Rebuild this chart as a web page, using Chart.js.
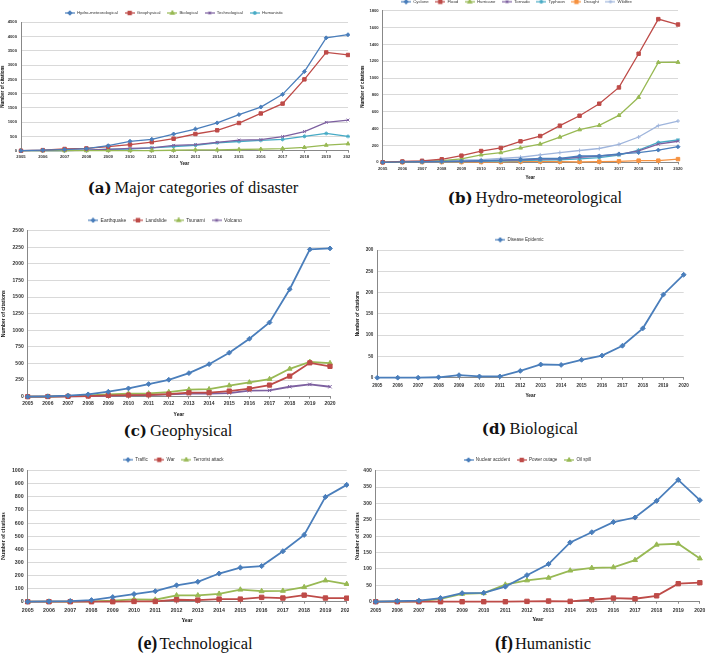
<!DOCTYPE html>
<html>
<head>
<meta charset="utf-8">
<script src="https://cdn.jsdelivr.net/npm/chart.js@4.4.1/dist/chart.umd.min.js"></script>
<style>
  body { margin: 0; background: #fff; width: 709px; height: 653px; position: relative; overflow: hidden; }
  .panel { position: absolute; overflow: hidden; }
  .panel canvas { position: absolute; left: 0; top: 0; }
  .cap { position: absolute; transform: translate(-50%, -50%); white-space: nowrap;
         font-family: "Liberation Serif", serif; font-size: 16.5px; color: #111; }
  .cap b { font-family: "DejaVu Serif", serif; font-size: 15px; margin-right: 3px; }
  .cap.times b { font-family: "Liberation Serif", serif; font-size: 18px; margin-right: 2px; }
</style>
</head>
<body>
<div class="cap" style="left:193px;top:188px"><b>(a)</b>Major categories of disaster</div>
<div class="cap" style="left:535px;top:198px"><b>(b)</b>Hydro-meteorological</div>
<div class="cap" style="left:178px;top:431px"><b>(c)</b>Geophysical</div>
<div class="cap" style="left:530px;top:429px"><b>(d)</b>Biological</div>
<div class="cap times" style="left:195px;top:643px"><b>(e)</b>Technological</div>
<div class="cap times" style="left:543px;top:643px"><b>(f)</b>Humanistic</div>

<script>
const years = ['2005', '2006', '2007', '2008', '2009', '2010', '2011', '2012',
               '2013', '2014', '2015', '2016', '2017', '2018', '2019', '2020'];

// (a) major categories
const hydroMet      = [0, 20, 40, 70, 175, 330, 400, 585, 760, 975, 1265, 1530, 1975, 2775, 3955, 4065];
const geophysical   = [0, 20, 60, 80, 140, 215, 300, 420, 585, 715, 970, 1305, 1650, 2500, 3445, 3355];
const biological    = [0, 0, 0, 2, 6, 3, 3, 16, 31, 30, 42, 52, 75, 116, 195, 242];
const technological = [0, 2, 5, 15, 43, 80, 97, 188, 212, 295, 372, 386, 497, 672, 995, 1075];
const humanistic    = [0, 2, 5, 20, 51, 55, 99, 148, 191, 278, 322, 360, 395, 503, 605, 502];

// (b) hydro-meteorological
const cyclone   = [0, 5, 8, 10, 15, 20, 25, 35, 45, 45, 75, 75, 100, 115, 145, 185];
const flood     = [0, 10, 18, 36, 79, 134, 170, 249, 312, 435, 553, 696, 889, 1289, 1700, 1636];
const hurricane = [0, 5, 10, 20, 40, 88, 115, 170, 217, 300, 387, 439, 557, 772, 1186, 1188];
const tornado   = [0, 3, 5, 8, 12, 18, 22, 30, 38, 42, 60, 75, 95, 135, 215, 250];
const typhoon   = [0, 2, 4, 6, 8, 12, 15, 20, 25, 30, 40, 55, 85, 145, 235, 265];
const drought   = [0, 0, 2, 3, 3, 3, 4, 10, 10, 8, 6, 8, 12, 20, 20, 38];
const wildfire  = [0, 8, 12, 18, 25, 32, 45, 60, 88, 115, 140, 164, 214, 300, 435, 490];

// (c) geophysical
const earthquake = [0, 5, 15, 35, 75, 125, 190, 255, 355, 490, 662, 872, 1118, 1618, 2218, 2233];
const landslide  = [0, 2, 5, 10, 20, 25, 28, 40, 60, 60, 85, 120, 175, 310, 510, 457];
const tsunami    = [0, 2, 10, 20, 35, 45, 50, 70, 108, 113, 168, 216, 266, 420, 525, 507];
const volcano    = [0, 2, 5, 8, 15, 20, 25, 35, 45, 45, 55, 90, 95, 150, 185, 150];

// (d) biological
const epidemic = [0, 0, 0, 1, 6, 3, 3, 16, 31, 30, 42, 52, 75, 116, 195, 242];

// (e) technological
const traffic   = [0, 2, 5, 12, 35, 58, 80, 125, 152, 215, 260, 272, 385, 510, 800, 892];
const war       = [0, 0, 0, 0, 0, 2, 2, 15, 12, 20, 20, 33, 28, 50, 28, 27];
const terrorist = [0, 0, 0, 3, 8, 18, 15, 48, 48, 60, 92, 80, 83, 111, 162, 135];

// (f) humanistic
const nuclear     = [0, 2, 3, 11, 26, 27, 46, 81, 115, 181, 212, 243, 257, 308, 372, 310];
const powerOutage = [0, 0, 0, 0, 0, 0, 0, 1, 2, 1, 6, 11, 9, 18, 55, 58];
const oilSpill    = [0, 0, 1, 9, 24, 26, 52, 65, 73, 95, 103, 105, 127, 174, 177, 132];

const BLUE = '#4A7EBB', RED = '#BE4B48', GREEN = '#98B954', PURPLE = '#7D60A0',
      CYAN = '#46AAC5', ORANGE = '#F69240', LIGHTBLUE = '#9FB5DC';

// marker size relative to the panel radius, per marker shape
const markerScale = { rectRot: 1.1, rect: 1.35, triangle: 1.25, crossRot: 1.1, star: 1.1, cross: 1.1 };

// little line+marker swatch like the Excel legend
function icon(color, style) {
  const c = document.createElement('canvas');
  c.width = 10; c.height = 6;
  const g = c.getContext('2d');
  g.strokeStyle = color; g.fillStyle = color; g.lineWidth = 1.2;
  g.beginPath(); g.moveTo(0, 3); g.lineTo(10, 3); g.stroke();
  if (Chart.helpers && Chart.helpers.drawPoint) {
    Chart.helpers.drawPoint(g, { pointStyle: style, radius: 1.7 * markerScale[style], borderWidth: 1, rotation: 0 }, 5, 3);
  } else {
    g.fillRect(3.5, 1.5, 3, 3);
  }
  return c;
}

// shrink legend box so the plot can sit closer to it
const legendTrim = {
  id: 'legendTrim',
  beforeLayout(chart, args, opts) {
    const lg = chart.legend;
    if (lg && !lg.trimmed) {
      const fit = lg.fit;
      lg.fit = function () { fit.call(this); this.height -= opts.trim; };
      lg.trimmed = true;
    }
  }
};

function drawPanel(p) {
  const fl = p.legendFont;
  const y = Math.floor(p.legendY - fl / 2 - 6);
  const gap = p.legendY - fl / 2 - y;
  const h = Math.round(p.bottomEdge - y);

  const box = document.createElement('div');
  box.className = 'panel';
  box.style.left = p.x + 'px';
  box.style.top = y + 'px';
  box.style.width = (p.clipW || p.cw) + 'px';
  box.style.height = h + 'px';
  const cv = document.createElement('canvas');
  cv.width = p.cw; cv.height = h;
  cv.style.width = p.cw + 'px'; cv.style.height = h + 'px';
  box.appendChild(cv);
  document.body.appendChild(box);

  const tickLh = p.tickFont * 1.2;
  const titleLh = p.titleFont * 1.2;
  const tickFont = { family: 'Liberation Sans', size: p.tickFont, weight: 'bold' };
  const titleFont = { family: p.titleFamily, size: p.titleFont, weight: 'bold' };

  new Chart(cv, {
    type: 'line',
    data: {
      labels: years,
      datasets: p.series.map(s => ({
        label: s.label,
        data: s.data,
        borderColor: s.color,
        backgroundColor: s.color,
        pointStyle: s.style,
        pointRadius: p.radius * markerScale[s.style],
        pointBorderWidth: 1,
        borderWidth: p.lineWidth,
        tension: 0,
        clip: 6,
        icon: icon(s.color, s.style)
      }))
    },
    options: {
      responsive: false,
      animation: false,
      layout: { padding: { top: 0, left: 0, bottom: 0, right: p.x + p.cw - p.right } },
      plugins: {
        legendTrim: { trim: fl + gap + 10 - (p.top - y) },
        tooltip: { enabled: false },
        legend: {
          labels: {
            usePointStyle: true,
            pointStyleWidth: 10,
            padding: gap,
            color: '#333',
            font: { family: 'Liberation Sans', size: fl },
            generateLabels: ch => ch.data.datasets.map((d, i) => ({
              text: d.label, pointStyle: d.icon, datasetIndex: i,
              fillStyle: d.borderColor, strokeStyle: d.borderColor,
              lineWidth: 0, hidden: false, fontColor: '#333'
            }))
          }
        }
      },
      scales: {
        x: {
          grid: { display: true, drawOnChartArea: false, tickLength: 2, color: '#888' },
          border: { color: '#888' },
          ticks: { font: tickFont, color: '#333', padding: p.tickY - p.bottom - 2 - tickLh / 2,
                   maxRotation: 0, autoSkip: false },
          title: { display: true, text: 'Year', font: titleFont, color: '#111',
                   padding: { top: 0, bottom: y + h - titleLh / 2 - p.xTitleY } },
          afterFit: s => { s.height = y + h - p.bottom; }
        },
        y: {
          min: 0,
          max: p.yMax,
          ticks: { stepSize: p.yStep, font: tickFont, color: '#333', padding: 4,
                   callback: v => String(v) },
          grid: { color: '#d9d9d9', drawTicks: false },
          border: { color: '#888' },
          title: { display: true, text: 'Number of citations', font: titleFont, color: '#111',
                   padding: { top: p.yTitleX - p.x - titleLh / 2, bottom: 0 } },
          afterFit: s => { s.width = p.left - p.x; }
        }
      }
    },
    plugins: [legendTrim]
  });
}

drawPanel({
  x: 0, cw: 362, clipW: 350, legendY: 13, bottomEdge: 168,
  left: 21, top: 22.3, right: 348, bottom: 150.7,
  tickY: 157, xTitleY: 164, yTitleX: 2.5,
  tickFont: 4.2, legendFont: 4.3, titleFont: 4.5, titleFamily: 'Liberation Sans',
  radius: 1.8, lineWidth: 1.3, yMax: 4500, yStep: 500,
  series: [
    { label: 'Hydro-meteorological', data: hydroMet, color: BLUE, style: 'rectRot' },
    { label: 'Geophysical', data: geophysical, color: RED, style: 'rect' },
    { label: 'Biological', data: biological, color: GREEN, style: 'triangle' },
    { label: 'Technological', data: technological, color: PURPLE, style: 'crossRot' },
    { label: 'Humanistic', data: humanistic, color: CYAN, style: 'star' }
  ]
});

drawPanel({
  x: 355, cw: 345, legendY: 1.7, bottomEdge: 181,
  left: 382.7, top: 10.7, right: 678, bottom: 162.3,
  tickY: 169.3, xTitleY: 177.7, yTitleX: 362.3,
  tickFont: 4.2, legendFont: 4.3, titleFont: 4.5, titleFamily: 'Liberation Sans',
  radius: 1.8, lineWidth: 1.3, yMax: 1800, yStep: 200,
  series: [
    { label: 'Cyclone', data: cyclone, color: BLUE, style: 'rectRot' },
    { label: 'Flood', data: flood, color: RED, style: 'rect' },
    { label: 'Hurricane', data: hurricane, color: GREEN, style: 'triangle' },
    { label: 'Tornado', data: tornado, color: PURPLE, style: 'crossRot' },
    { label: 'Typhoon', data: typhoon, color: CYAN, style: 'star' },
    { label: 'Drought', data: drought, color: ORANGE, style: 'rect' },
    { label: 'Wildfire', data: wildfire, color: LIGHTBLUE, style: 'cross' }
  ]
});

drawPanel({
  x: 0, cw: 350, legendY: 220.3, bottomEdge: 418,
  left: 27.7, top: 230.7, right: 330, bottom: 396.7,
  tickY: 404, xTitleY: 415, yTitleX: 4,
  tickFont: 5, legendFont: 5, titleFont: 5, titleFamily: 'Liberation Sans',
  radius: 2.2, lineWidth: 1.8, yMax: 2500, yStep: 250,
  series: [
    { label: 'Earthquake', data: earthquake, color: BLUE, style: 'rectRot' },
    { label: 'Landslide', data: landslide, color: RED, style: 'rect' },
    { label: 'Tsunami', data: tsunami, color: GREEN, style: 'triangle' },
    { label: 'Volcano', data: volcano, color: PURPLE, style: 'crossRot' }
  ]
});

drawPanel({
  x: 355, cw: 354, legendY: 239.7, bottomEdge: 399,
  left: 377.3, top: 250, right: 683.7, bottom: 377.7,
  tickY: 385.7, xTitleY: 395.7, yTitleX: 357.7,
  tickFont: 4.6, legendFont: 4.5, titleFont: 4.8, titleFamily: 'Liberation Sans',
  radius: 2.2, lineWidth: 1.8, yMax: 300, yStep: 50,
  series: [
    { label: 'Disease Epidemic', data: epidemic, color: BLUE, style: 'rectRot' }
  ]
});

drawPanel({
  x: 0, cw: 360, clipW: 349, legendY: 459.7, bottomEdge: 625,
  left: 27.7, top: 470.7, right: 346.7, bottom: 601.7,
  tickY: 611, xTitleY: 620.7, yTitleX: 4,
  tickFont: 5.3, legendFont: 4.6, titleFont: 5.6, titleFamily: 'Liberation Serif',
  radius: 2.3, lineWidth: 1.8, yMax: 1000, yStep: 100,
  series: [
    { label: 'Traffic', data: traffic, color: BLUE, style: 'rectRot' },
    { label: 'War', data: war, color: RED, style: 'rect' },
    { label: 'Terrorist attack', data: terrorist, color: GREEN, style: 'triangle' }
  ]
});

drawPanel({
  x: 352, cw: 357, legendY: 460, bottomEdge: 624,
  left: 375.7, top: 470.7, right: 702.7, bottom: 601.7,
  tickY: 610.3, xTitleY: 619.3, yTitleX: 357.5,
  tickFont: 5, legendFont: 4.6, titleFont: 5.6, titleFamily: 'Liberation Serif',
  radius: 2.3, lineWidth: 1.8, yMax: 400, yStep: 50,
  series: [
    { label: 'Nuclear accident', data: nuclear, color: BLUE, style: 'rectRot' },
    { label: 'Power outage', data: powerOutage, color: RED, style: 'rect' },
    { label: 'Oil spill', data: oilSpill, color: GREEN, style: 'triangle' }
  ]
});
</script>
</body>
</html>
